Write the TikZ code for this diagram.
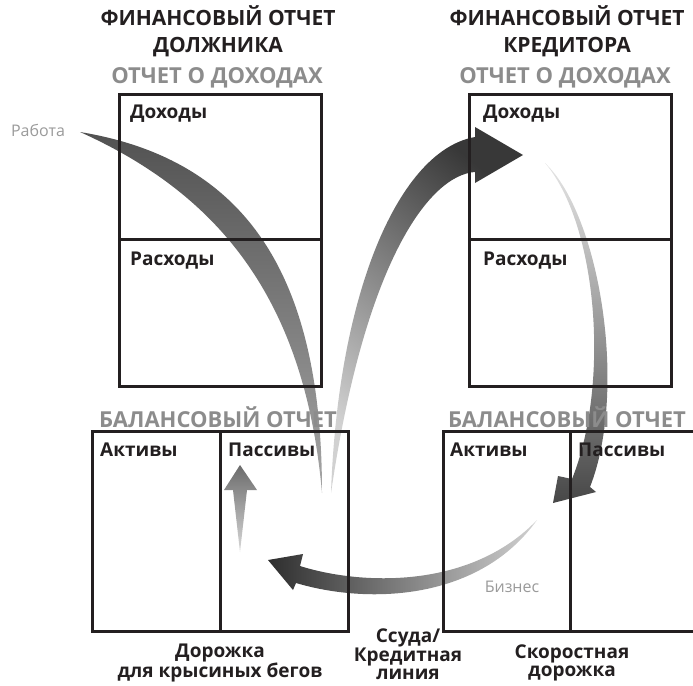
\documentclass[tikz,border=0pt]{standalone}
\usepackage{fontspec}
\setmainfont{Open Sans}
\definecolor{headgray}{HTML}{8C8C8C}
\definecolor{notegray}{HTML}{9A9A9A}
\definecolor{ink}{HTML}{231F20}
\begin{document}
\begin{tikzpicture}[x=1pt,y=-1pt,
    title/.style={font=\bfseries\fontsize{21}{27}\selectfont, align=center, text=ink},
    head/.style={font=\bfseries\fontsize{22}{24}\selectfont, text=headgray},
    cell/.style={anchor=north west, inner sep=0pt, font=\bfseries\fontsize{19}{21}\selectfont, text=ink},
    caption/.style={font=\bfseries\fontsize{19}{17.5}\selectfont, align=center, text=ink},
    note/.style={font=\fontsize{16}{18}\selectfont, text=notegray},
    sheet/.style={draw=ink, line width=2.6pt, anchor=north west, inner sep=0pt}]
\clip (0,0) rectangle (693,685);

\coordinate (job) at (80,132);
\coordinate (loan) at (331,493);
\coordinate (credin) at (523,155);
\coordinate (credout) at (545,163);
\coordinate (bizin) at (553,503);
\coordinate (biz) at (537,520);
\coordinate (payin) at (268,560);
\coordinate (payout) at (240,552);
\coordinate (debt) at (240,465);

\shade[top color=black!68, bottom color=black!35] (job) .. controls (250,160) and (322,280) .. (322,493) .. controls (305,300) and (220,195) .. (job) -- cycle;
\shade[top color=black!78, bottom color=black!18, shading angle=-40] (loan) .. controls (338,290) and (400,150) .. (475,137) -- (475,127) -- (credin) -- (475,183) -- (475,172) .. controls (430,175) and (365,260) .. (loan) -- cycle;
\shade[top color=black!10, bottom color=black!72] (credout) .. controls (600,215) and (628,390) .. (590,487) -- (596,492) -- (bizin) -- (558,476) -- (572,479) .. controls (610,385) and (598,225) .. (credout) -- cycle;
\shade[left color=black!82, right color=black!18] (biz) .. controls (470,590) and (360,585) .. (300,566) -- (303,554) -- (payin) -- (293,590) -- (296,583) .. controls (370,605) and (480,600) .. (biz) -- cycle;
\shade[top color=black!58, bottom color=black!15] (payout) -- (233,490) -- (224,490) -- (debt) -- (257,490) -- (247,490) -- cycle;

\node[sheet, minimum width=202, minimum height=145] (incomeL) at (118,93) {};
\node[sheet, minimum width=202, minimum height=147] (expenseL) at (118,238) {};
\node[sheet, minimum width=202, minimum height=145] (incomeR) at (468,93) {};
\node[sheet, minimum width=202, minimum height=147] (expenseR) at (468,238) {};
\node[sheet, minimum width=128, minimum height=200] (assetsL) at (91,430) {};
\node[sheet, minimum width=128, minimum height=200] (liabL) at (219,430) {};
\node[sheet, minimum width=127, minimum height=200] (assetsR) at (442,430) {};
\node[sheet, minimum width=140, minimum height=200] (liabR) at (569,430) {};

\node[title] (titleL) at (218,31) {ФИНАНСОВЫЙ ОТЧЕТ\\ДОЛЖНИКА};
\node[title] (titleR) at (567,31) {ФИНАНСОВЫЙ ОТЧЕТ\\КРЕДИТОРА};
\node[head] (incheadL) at (217,78) {ОТЧЕТ О ДОХОДАХ};
\node[head] (incheadR) at (565,78) {ОТЧЕТ О ДОХОДАХ};
\node[head] (balheadL) at (218,417) {БАЛАНСОВЫЙ ОТЧЕТ};
\node[head] (balheadR) at (567,417) {БАЛАНСОВЫЙ ОТЧЕТ};

\node[cell] (incomeLtxt) at (130,105) {Доходы};
\node[cell] (expenseLtxt) at (130,252) {Расходы};
\node[cell] (incomeRtxt) at (483,105) {Доходы};
\node[cell] (expenseRtxt) at (483,252) {Расходы};
\node[cell] (assetsLtxt) at (100,443) {Активы};
\node[cell] (liabLtxt) at (228,443) {Пассивы};
\node[cell] (assetsRtxt) at (450,443) {Активы};
\node[cell] (liabRtxt) at (578,443) {Пассивы};

\node[note] (jobtxt) at (38,130) {Работа};
\node[note] (biztxt) at (512,587) {Бизнес};

\node[caption] (ratrace) at (220,663) {Дорожка\\для крысиных бегов};
\node[caption] (loantxt) at (408,654) {Ссуда/\\Кредитная\\линия};
\node[caption] (fasttrack) at (572,663) {Скоростная\\дорожка};
\end{tikzpicture}
\end{document}
